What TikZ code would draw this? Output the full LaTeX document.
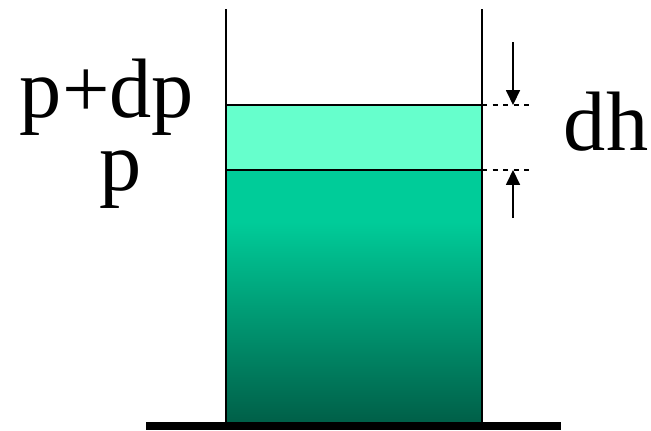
\documentclass[tikz,border=0pt]{standalone}
\usepackage{fontspec}
\setmainfont{Liberation Serif}
\usetikzlibrary{arrows.meta}
\definecolor{lightliq}{HTML}{66FFCC}
\definecolor{liqtop}{HTML}{00CC99}
\definecolor{liqbot}{HTML}{005E47}
\begin{document}
\begin{tikzpicture}[x=0.02cm,y=-0.02cm,
  wall/.style={line width=1.2pt,black},
  level/.style={line width=1.1pt,black},
  dashline/.style={line width=0.9pt,dash pattern=on 3pt off 3pt},
  dimarrow/.style={line width=0.8pt,-{Triangle[length=8.5pt,width=8pt]}},
  lbl/.style={inner sep=0pt,anchor=base,font=\fontsize{48}{56}\selectfont}]
\useasboundingbox (0,0) rectangle (651,430);
% liquid
\fill[lightliq] (226,105) rectangle (482,170);
\fill[liqtop] (226,170) rectangle (482,223);
\shade[top color=liqtop,bottom color=liqbot] (226,222) rectangle (482,425);
% ground
\fill[black] (146,422) rectangle (561,430);
% coordinates
\coordinate (lt) at (226,9);
\coordinate (lb) at (226,425);
\coordinate (rt) at (482,9);
\coordinate (rb) at (482,425);
\coordinate (l1) at (226,105);
\coordinate (r1) at (482,105);
\coordinate (l2) at (226,170);
\coordinate (r2) at (482,170);
\coordinate (d1) at (530,105);
\coordinate (d2) at (530,170);
\coordinate (a1s) at (513,42);
\coordinate (a1e) at (513,105);
\coordinate (a2s) at (513,218);
\coordinate (a2e) at (513,170);
% walls
\draw[wall] (lt) -- (lb);
\draw[wall] (rt) -- (rb);
% levels
\draw[level] (l1) -- (r1);
\draw[level] (l2) -- (r2);
\draw[dashline] (r1) -- (d1);
\draw[dashline] (r2) -- (d2);
% arrows
\draw[dimarrow] (a1s) -- (a1e);
\draw[dimarrow] (a2s) -- (a2e);
% labels
\node[lbl] (pdp) at (107,117) {p+dp};
\node[lbl] (p) at (121,190) {p};
\node[lbl] (dh) at (606,150) {dh};
\end{tikzpicture}
\end{document}
